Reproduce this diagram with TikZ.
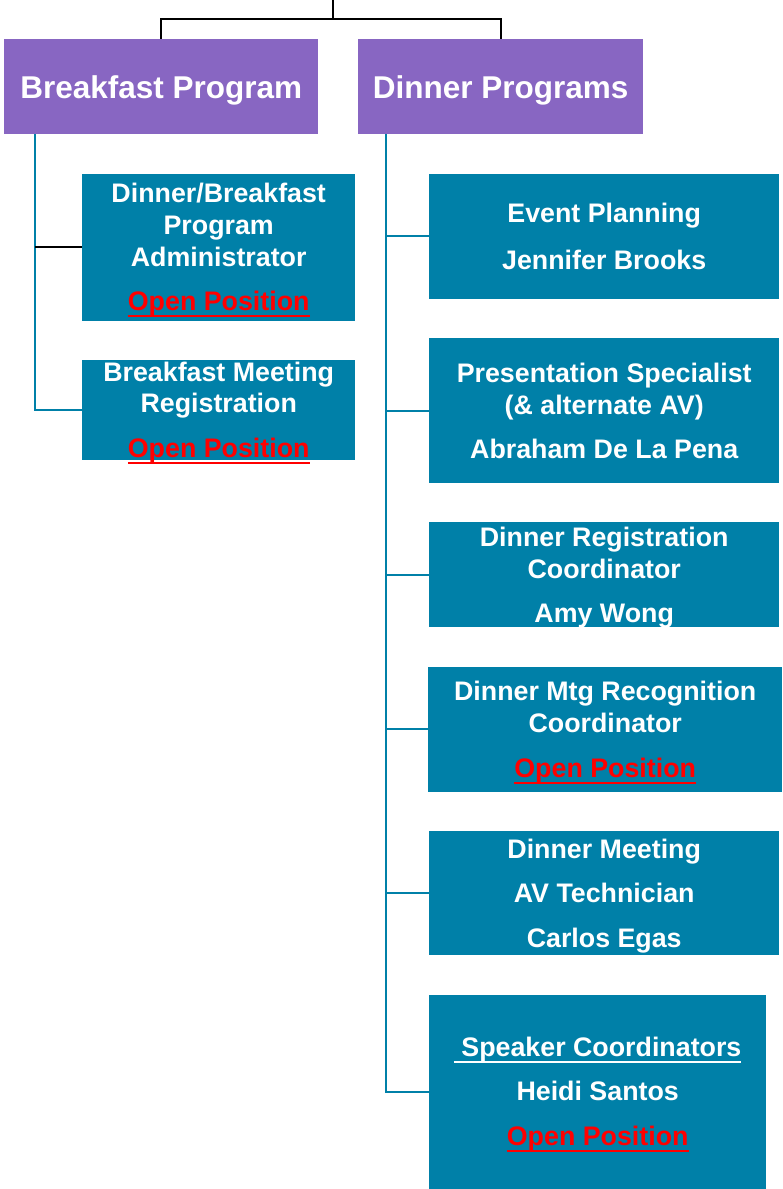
\documentclass[tikz,border=0pt]{standalone}
\usepackage{fontspec}
\setmainfont{Liberation Sans}
\usepackage{tikz}
\usetikzlibrary{positioning,calc}

\definecolor{headpurple}{RGB}{136,102,194}
\definecolor{roleteal}{RGB}{0,128,168}
\definecolor{openred}{RGB}{255,0,0}

\newsavebox{\ulsave}
\newcommand{\ulinetext}[1]{\sbox{\ulsave}{#1}\rlap{\rule[-6pt]{\wd\ulsave}{2pt}}\usebox{\ulsave}}
\newcommand{\nodepth}[1]{\raisebox{0pt}[\height][0pt]{#1}}
\newcommand{\openpos}{\nodepth{\textcolor{openred}{\ulinetext{Open Position}}}}

\begin{document}
\begin{tikzpicture}[x=1pt,y=1pt,node distance=39pt,
  head node/.style={fill=headpurple,text=white,inner sep=0pt,minimum height=95pt,
    text height=22.6pt,text depth=0pt,font=\bfseries\fontsize{31.5}{38}\selectfont},
  role node/.style={fill=roleteal,text=white,inner sep=0pt,align=center,minimum width=350pt,
    font=\bfseries\fontsize{26.8}{32}\selectfont},
  black line/.style={draw=black,line width=2.2pt},
  teal line/.style={draw=roleteal,line width=2pt}]

  \useasboundingbox (0,0) rectangle (782,-1189);

  % the two programs
  \node[head node,minimum width=314pt,anchor=north west] (bp) at (4,-39) {Breakfast Program};
  \node[head node,minimum width=285pt,anchor=north west] (dp) at (358,-39) {Dinner Programs};

  % breakfast side
  \node[role node,minimum width=273pt,minimum height=147pt,below right=39pt and 78pt of bp.south west] (B1)
    {Dinner/Breakfast\\Program\\Administrator\\[12pt]\openpos};
  \node[role node,minimum width=273pt,minimum height=100pt,below=of B1] (B2)
    {Breakfast Meeting\\[-1pt]Registration\\[13pt]\openpos};

  % dinner side
  \node[role node,minimum height=125pt,below right=39pt and 71pt of dp.south west] (D1)
    {Event Planning\\[15pt]Jennifer Brooks};
  \node[role node,minimum height=145pt,below=of D1.south west,anchor=north west] (D2)
    {Presentation Specialist\\(\& alternate AV)\\[12pt]Abraham De La Pena};
  \node[role node,minimum height=105pt,below=of D2.south west,anchor=north west] (D3)
    {Dinner Registration\\Coordinator\\[12pt]\nodepth{Amy Wong}};
  \node[role node,minimum width=354pt,minimum height=125pt,below=of D3.south west,anchor=north west,xshift=-1pt] (D4)
    {Dinner Mtg Recognition\\Coordinator\\[13pt]\openpos};
  \node[role node,minimum height=124pt,below=of D4.south west,anchor=north west,xshift=1pt] (D5)
    {Dinner Meeting\\[12pt]AV Technician\\[13pt]\nodepth{Carlos Egas}};
  \node[role node,minimum width=337pt,minimum height=194pt,below=of D5.south west,anchor=north west] (D6)
    {\ulinetext{\ Speaker Coordinators}\\[12pt]Heidi Santos\\[13pt]\openpos};

  % lines from above
  \coordinate (top) at (333,0);
  \coordinate (bar) at (333,-19);
  \draw[black line] (top) -- (bar);
  \draw[black line] (bar) -| (bp);
  \draw[black line] (bar) -| (dp);

  % breakfast spine
  \coordinate (bs) at ([xshift=31pt]bp.south west);
  \draw[teal line] (bs) |- (B2);
  \draw[black line] (bs |- B1.west) -- (B1);

  % dinner spine
  \coordinate (ds) at ([xshift=28pt]dp.south west);
  \draw[teal line] (ds) |- (D6);
  \foreach \n in {1,...,5}
    \draw[teal line] (ds |- D\n.west) -- (D\n);
\end{tikzpicture}
\end{document}
